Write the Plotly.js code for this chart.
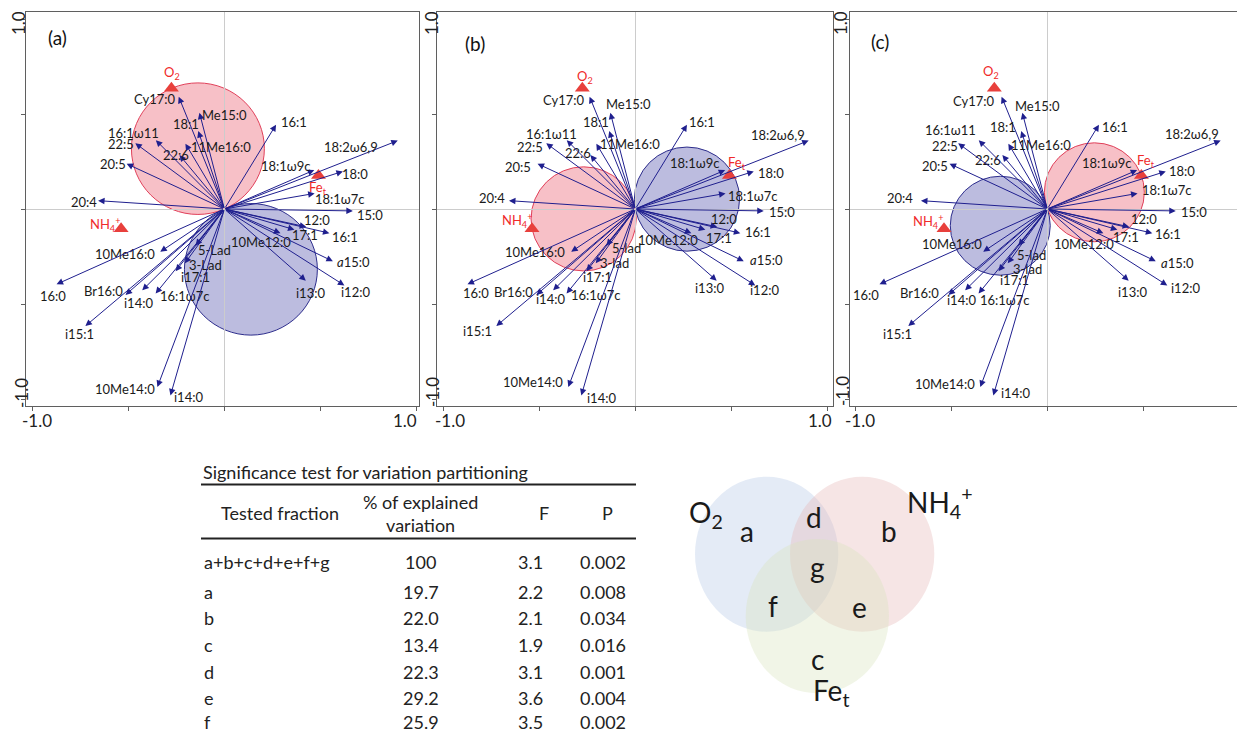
<!DOCTYPE html>
<html><head><meta charset="utf-8">
<script src="https://cdn.plot.ly/plotly-3.0.1.min.js"></script>
<style>html,body{margin:0;padding:0;background:#fff}#chart{width:1237px;height:734px}</style>
</head><body><div id="chart"></div>
<script>
// ---------------- DATA ----------------
const speciesNames = ['Cy17:0','Me15:0','18:1','11Me16:0','22:6','16:1ω11','22:5','20:5','20:4','16:1',
  '18:2ω6,9','18:1ω9c','18:0','18:1ω7c','15:0','12:0','17:1','16:1','10Me12:0','<i>a</i>15:0',
  'i13:0','i12:0','10Me16:0','5-Lad','3-Lad','i17:1','16:1ω7c','i14:0','Br16:0','16:0',
  'i15:1','10Me14:0','i14:0'];
const speciesX = [-0.238,-0.130,-0.136,-0.203,-0.234,-0.357,-0.464,-0.509,-0.658,0.269,
  0.903,0.468,0.617,0.470,0.669,0.426,0.365,0.547,0.292,0.565,
  0.424,0.625,-0.334,-0.150,-0.206,-0.254,-0.358,-0.428,-0.515,-0.874,
  -0.724,-0.349,-0.281];
const speciesY = [0.591,0.507,0.410,0.344,0.284,0.362,0.346,0.238,0.044,0.444,
  0.360,0.205,0.198,0.082,-0.010,-0.094,-0.109,-0.127,-0.128,-0.275,
  -0.377,-0.402,-0.225,-0.193,-0.286,-0.327,-0.445,-0.428,-0.452,-0.396,
  -0.616,-0.937,-0.981];
const envNames = ['O<sub>2</sub>','NH<sub>4</sub><sup>+</sup>','Fe<sub>t</sub>'];
const envX = [-0.276,-0.538,0.490];
const envY = [0.635,-0.104,0.176];
const panelLetters = ['(a)','(b)','(c)'];
const panelCircleVar = [0,1,2];
const axisTickVals = [-1,-0.5,0,0.5,1];
const axisTickText = ['-1.0','1.0'];

const tableTitle = 'Significance test for variation partitioning';
const tableHeader = ['Tested fraction','% of explained<br>variation','F','P'];
const fractions = ['a+b+c+d+e+f+g','a','b','c','d','e','f'];
const explained = [100,19.7,22.0,13.4,22.3,29.2,25.9];
const Fvals = [3.1,2.2,2.1,1.9,3.1,3.6,3.5];
const Pvals = [0.002,0.008,0.034,0.016,0.001,0.004,0.002];

const vennSets = ['O<sub>2</sub>','NH<sub>4</sub><sup>+</sup>','Fe<sub>t</sub>'];
const vennRegions = ['a','b','c','d','e','f','g'];

// ---------------- LAYOUT HELPERS ----------------
const W = 1237, H = 734;
const FONT = 'Lato, "Open Sans", sans-serif';
const px = v => v / W;
const py = v => 1 - v / H;

// label offsets (px, dy positive = down) per panel
const offA = [[-24,2],[25,2],[-12,-7],[36,3],[-3,0],[-22,-7],[-14,1],[-14,0],[-14,1],[18,-3],
  [-47,6],[-28,-4],[12,3],[25,6],[17,4],[11,-7],[11,5],[16,4],[-19,9],[21,1],
  [5,12],[11,7],[-35,2],[19,4],[21,2],[20,6],[29,2],[-4,13],[-22,-4],[-4,12],
  [-6,8],[-32,2],[18,2]];
const offB = [[-26,3],[18,-9],[-13,-9],[34,0],[-12,-2],[-15,-6],[-16,4],[-20,3],[-17,-3],[15,-3],
  [-31,-6],[-30,-7],[17,2],[27,3],[18,1],[7,-8],[14,8],[18,-1],[-23,7],[23,-1],
  [-7,7],[9,5],[-36,0],[20,2],[19,0],[11,6],[29,1],[-3,9],[-23,-3],[8,9],
  [-19,5],[-35,-5],[20,3]];
const offC = [[-28,4],[15,-7],[-18,-4],[33,1],[-14,5],[-28,-10],[-13,3],[-15,2],[-21,-3],[16,2],
  [-29,-7],[-30,-7],[16,0],[29,-3],[18,1],[15,-8],[9,7],[16,1],[-19,11],[22,2],
  [4,11],[18,3],[-31,-8],[13,9],[20,6],[16,9],[26,6],[-4,10],[-29,-2],[-13,11],
  [-11,8],[-35,-3],[22,-2]];

const panels = [
  {x0:26, x1:418.5, range:[-1.0333,1.0109], mirrorY:true, off:offA, envOff:[[1,-15],[-16,-4],[0,12]],
   letter:[57,38], ylab:[19,23,21,393], xlabShift:[5,-11], lower:false},
  {x0:437.3, x1:833, range:[-1.0313,1.0297], mirrorY:true, off:offB, envOff:[[3,-11],[-15,-8],[8,-13]],
   letter:[475,43], ylab:[432,23,432,392], xlabShift:[7,-7], lower:true},
  {x0:850, x1:1237, range:[-1.0276,0.988], mirrorY:false, off:offC, envOff:[[-3,-16],[-16,-7],[5,-15]],
   letter:[880,42], ylab:[841,23,842,391], xlabShift:[5,-4], lower:true}
];
const yTop = 11.7, yBot = 406, yRange = [-1.0368, 1.0384];

const layout = {
  width: W, height: H, margin:{l:0,r:0,t:0,b:0}, showlegend:false,
  paper_bgcolor:'#fff', plot_bgcolor:'rgba(0,0,0,0)',
  font:{family:FONT, color:'#1a1a1a'},
  annotations:[], shapes:[]
};
const traces = [];
const FRAME = '#5f5f5f';
const TICKF = {family:FONT, size:17, color:'#222'};

panels.forEach((p, i) => {
  const sfx = i ? String(i+1) : '';
  const xa = 'x'+sfx, ya = 'y'+sfx;
  layout['xaxis'+sfx] = {domain:[px(p.x0), px(p.x1)], range:p.range, anchor:ya,
    showgrid:false, zeroline:true, zerolinecolor:'#cccccc', zerolinewidth:1,
    showline:true, linecolor:FRAME, linewidth:1, mirror:true,
    ticks:'outside', ticklen:4, tickcolor:FRAME, tickvals:axisTickVals, showticklabels:false, fixedrange:true};
  layout['yaxis'+sfx] = {domain:[py(yBot), py(yTop)], range:yRange, anchor:xa,
    showgrid:false, zeroline:true, zerolinecolor:'#cccccc', zerolinewidth:1,
    showline:true, linecolor:FRAME, linewidth:1, mirror:p.mirrorY,
    ticks:'outside', ticklen:4, tickcolor:FRAME, tickvals:axisTickVals, showticklabels:false, fixedrange:true};

  // correlation circles (diameter = env arrow), positive (pink) and negative (blue)
  const v = panelCircleVar[i];
  const cx = envX[v]/2, cy = envY[v]/2, r = Math.hypot(cx, cy);
  layout.shapes.push({type:'circle', xref:xa, yref:ya, x0:cx-r, x1:cx+r, y0:cy-r, y1:cy+r,
    fillcolor:'rgba(232,80,100,0.36)', line:{color:'#e0405a', width:1}, layer:'below'});
  layout.shapes.push({type:'circle', xref:xa, yref:ya, x0:-cx-r, x1:-cx+r, y0:-cy-r, y1:-cy+r,
    fillcolor:'rgba(60,60,160,0.34)', line:{color:'#2d2d8c', width:1}, layer:'below'});

  // species arrows + labels
  speciesNames.forEach((name, k) => {
    layout.annotations.push({xref:xa, yref:ya, axref:xa, ayref:ya, x:speciesX[k], y:speciesY[k], ax:0, ay:0,
      text:'', showarrow:true, arrowhead:2, arrowsize:1.3, arrowwidth:1, arrowcolor:'#1f1f8e', standoff:0, startstandoff:0});
    const label = p.lower ? name.replace('Lad','lad') : name;
    layout.annotations.push({xref:xa, yref:ya, x:speciesX[k], y:speciesY[k], text:label, showarrow:false,
      xanchor:'center', yanchor:'middle', xshift:p.off[k][0], yshift:-p.off[k][1],
      font:{family:FONT, size:13, color:'#1a1a1a'}});
  });

  // environmental variables
  traces.push({type:'scatter', mode:'markers', x:envX, y:envY, xaxis:xa, yaxis:ya, hoverinfo:'skip',
    marker:{symbol:'triangle-up', size:13, color:'#e8403c', line:{width:0}}, cliponaxis:false});
  envNames.forEach((name, k) => {
    layout.annotations.push({xref:xa, yref:ya, x:envX[k], y:envY[k], text:name, showarrow:false,
      xanchor:'center', yanchor:'middle', xshift:p.envOff[k][0], yshift:-p.envOff[k][1],
      font:{family:FONT, size:13, color:'#f02a2a'}});
  });

  // panel letter
  layout.annotations.push({xref:'paper', yref:'paper', x:px(p.letter[0]), y:py(p.letter[1]), text:panelLetters[i],
    showarrow:false, xanchor:'center', yanchor:'middle', font:{family:FONT, size:19, color:'#111'}});
  // tick labels
  layout.annotations.push({xref:xa, yref:'paper', x:axisTickVals[0], y:py(420), text:axisTickText[0], showarrow:false,
    xanchor:'center', yanchor:'middle', xshift:p.xlabShift[0], font:TICKF});
  layout.annotations.push({xref:xa, yref:'paper', x:axisTickVals[4], y:py(420), text:axisTickText[1], showarrow:false,
    xanchor:'center', yanchor:'middle', xshift:p.xlabShift[1], font:TICKF});
  layout.annotations.push({xref:'paper', yref:'paper', x:px(p.ylab[0]), y:py(p.ylab[1]), text:axisTickText[1], textangle:-90,
    showarrow:false, xanchor:'center', yanchor:'middle', font:TICKF});
  layout.annotations.push({xref:'paper', yref:'paper', x:px(p.ylab[2]), y:py(p.ylab[3]), text:axisTickText[0], textangle:-90,
    showarrow:false, xanchor:'center', yanchor:'middle', font:TICKF});
});

// ---------------- TABLE ----------------
const TF = {family:FONT, size:18, color:'#222'};
const tAnn = (x, y, text, anchor) => layout.annotations.push({xref:'paper', yref:'paper', x:px(x), y:py(y), text,
  showarrow:false, xanchor:anchor||'center', yanchor:'middle', font:TF});
tAnn(201, 471.5, tableTitle, 'left');
layout.shapes.push({type:'line', xref:'paper', yref:'paper', x0:px(201), x1:px(636), y0:py(484.5), y1:py(484.5), line:{color:'#222', width:2}});
layout.shapes.push({type:'line', xref:'paper', yref:'paper', x0:px(201), x1:px(636), y0:py(538.5), y1:py(538.5), line:{color:'#222', width:2}});
const hdrX = [280, 421, 544, 607];
tableHeader.forEach((h, j) => tAnn(hdrX[j], 513, h, 'center'));
const rowY = [561.5, 591.5, 618.3, 645, 671.5, 697.8, 722];
fractions.forEach((f, r) => {
  tAnn(201.5, rowY[r], f, 'left');
  tAnn(421, rowY[r], r === 0 ? String(explained[r]) : explained[r].toFixed(1), 'center');
  tAnn(530, rowY[r], Fvals[r].toFixed(1), 'center');
  tAnn(602.5, rowY[r], Pvals[r].toFixed(3), 'center');
});

// ---------------- VENN ----------------
const vennCircles = [
  {x0:695, x1:838.3, y0:476.7, y1:631.7, fill:'rgba(180,199,231,0.36)'},
  {x0:790, x1:934.3, y0:476.7, y1:631.7, fill:'rgba(230,184,183,0.36)'},
  {x0:745.7, x1:889, y0:539, y1:693.3, fill:'rgba(215,228,189,0.36)'}
];
vennCircles.forEach(c => layout.shapes.push({type:'circle', xref:'paper', yref:'paper',
  x0:px(c.x0), x1:px(c.x1), y0:py(c.y1), y1:py(c.y0), fillcolor:c.fill, line:{width:0}, layer:'below'}));
const VF = {family:FONT, size:28, color:'#1a1a1a'};
const vennSetPos = [[706,514],[940,502],[831,692]];
vennSets.forEach((s, k) => layout.annotations.push({xref:'paper', yref:'paper', x:px(vennSetPos[k][0]), y:py(vennSetPos[k][1]),
  text:s, showarrow:false, xanchor:'center', yanchor:'middle', font:VF}));
const vennRegPos = [[747,531],[889,531],[817,659],[814,517],[859,607],[773,606],[817,567]];
vennRegions.forEach((s, k) => layout.annotations.push({xref:'paper', yref:'paper', x:px(vennRegPos[k][0]), y:py(vennRegPos[k][1]),
  text:s, showarrow:false, xanchor:'center', yanchor:'middle', font:VF}));

Plotly.newPlot('chart', traces, layout, {staticPlot:true, displayModeBar:false});
</script></body></html>
